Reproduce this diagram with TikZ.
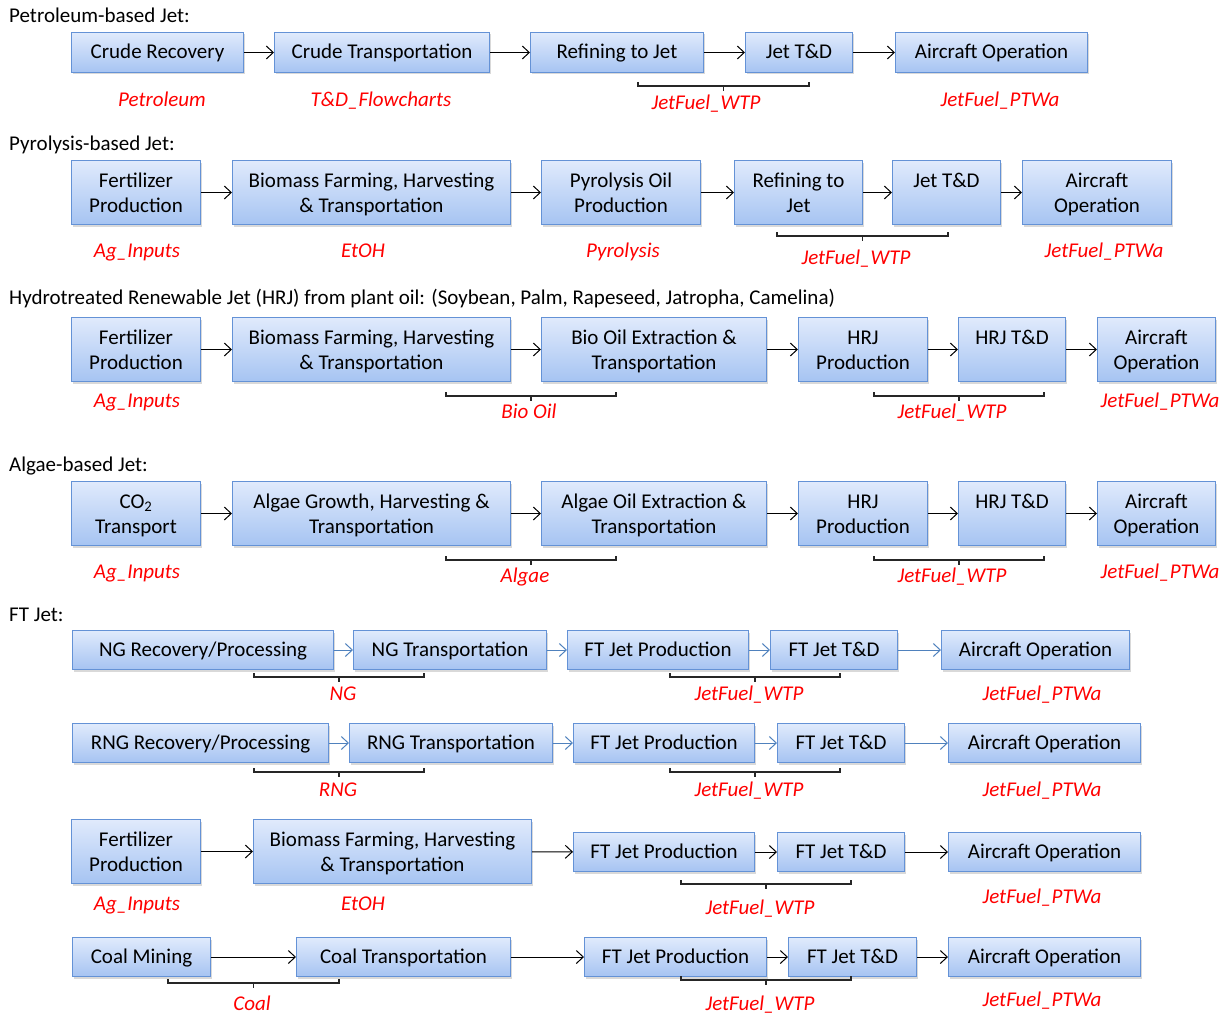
\documentclass[tikz,border=0pt]{standalone}
\usepackage{fontspec}
\setmainfont{Carlito}
\usetikzlibrary{arrows.meta,shadows}

\definecolor{boxtop}{HTML}{E0EAFC}
\definecolor{boxbot}{HTML}{A6C4F2}
\definecolor{boxedge}{HTML}{6492D6}
\definecolor{bluearrow}{HTML}{4F81BD}
\definecolor{labred}{HTML}{FF0000}

\tikzset{
  box/.style={draw=boxedge, line width=1pt, top color=boxtop, bottom color=boxbot,
    anchor=north west, inner sep=0pt, align=center,
    font=\fontsize{21}{25}\selectfont,
    drop shadow={opacity=0.3, shadow xshift=1.5pt, shadow yshift=-2pt}},
  onebox/.style={box, minimum height=39pt, text height=15pt, text depth=3pt},
  twobox/.style={box, minimum height=64pt},
  arr/.style={draw=black, line width=1pt, -{Straight Barb[length=7pt,width=13pt]}},
  barr/.style={draw=bluearrow, line width=1pt, -{Straight Barb[length=7pt,width=13pt]}},
  lab/.style={anchor=base, text=labred, inner sep=0pt, font=\fontsize{21}{25}\selectfont\itshape},
  head/.style={anchor=base west, inner sep=0pt, font=\fontsize{21}{25}\selectfont},
  brk/.style={draw=black!85, line width=1.2pt}
}

% two-line box text, each line with a strut so all rows sit alike
\newcommand{\twol}[2]{\rule{0pt}{21.5pt}#1\\\strut #2}

% grouping bracket: left x, right x, line y
\newcommand{\grpbracket}[3]{%
  \draw[brk] (#1,#3-4) -- (#1,#3) -- (#2,#3) -- (#2,#3-4);
  \draw[brk] ({(#1+#2)/2},#3) -- ({(#1+#2)/2},#3+5);}

\begin{document}
\begin{tikzpicture}[x=1pt,y=-1pt]
\useasboundingbox (0,0) rectangle (1231,1014);

% ---------------- Petroleum-based Jet
\node[head] (h1) at (9,23) {Petroleum-based Jet:};
\node[onebox, minimum height=40pt, minimum width=172pt] (cr1) at (71,32) {Crude Recovery};
\node[onebox, minimum height=40pt, minimum width=215pt] (ct1) at (274,32) {Crude Transportation};
\node[onebox, minimum height=40pt, minimum width=173pt] (rj1) at (530,32) {Refining to Jet};
\node[onebox, minimum height=40pt, minimum width=107pt] (td1) at (745,32) {Jet T\&D};
\node[onebox, minimum height=40pt, minimum width=192pt] (ao1) at (895,32) {Aircraft Operation};
\draw[arr] (cr1) -- (ct1);
\draw[arr] (ct1) -- (rj1);
\draw[arr] (rj1) -- (td1);
\draw[arr] (td1) -- (ao1);
\node[lab] (l1a) at (162,107) {Petroleum};
\node[lab] (l1b) at (381,107) {T\&D\_Flowcharts};
\grpbracket{638}{809}{86}
\node[lab] (l1c) at (706,110) {JetFuel\_WTP};
\node[lab] (l1d) at (1000,107) {JetFuel\_PTWa};

% ---------------- Pyrolysis-based Jet
\node[head] (h2) at (9,150) {Pyrolysis-based Jet:};
\node[twobox, minimum width=129pt] (fp2) at (71,160) {\twol{Fertilizer}{Production}};
\node[twobox, minimum width=278pt] (bf2) at (232,160) {\twol{Biomass Farming, Harvesting}{\& Transportation}};
\node[twobox, minimum width=159pt] (po2) at (541,160) {\twol{Pyrolysis Oil}{Production}};
\node[twobox, minimum width=128pt] (rj2) at (734,160) {\twol{Refining to}{Jet}};
\node[twobox, minimum width=108pt] (td2) at (892,160) {\twol{Jet T\&D}{}};
\node[twobox, minimum width=149pt] (ao2) at (1022,160) {\twol{Aircraft}{Operation}};
\draw[arr] (fp2) -- (bf2);
\draw[arr] (bf2) -- (po2);
\draw[arr] (po2) -- (rj2);
\draw[arr] (rj2) -- (td2);
\draw[arr] (td2) -- (ao2);
\node[lab] (l2a) at (137,257) {Ag\_Inputs};
\node[lab] (l2b) at (363,257) {EtOH};
\node[lab] (l2c) at (623,257) {Pyrolysis};
\grpbracket{777}{948}{236}
\node[lab] (l2d) at (856,264) {JetFuel\_WTP};
\node[lab] (l2e) at (1104,257) {JetFuel\_PTWa};

% ---------------- HRJ from plant oil
\node[head] (h3) at (9,304) {Hydrotreated Renewable Jet (HRJ) from plant oil: (Soybean, Palm, Rapeseed, Jatropha, Camelina)};
\node[twobox, minimum width=129pt] (fp3) at (71,317) {\twol{Fertilizer}{Production}};
\node[twobox, minimum width=278pt] (bf3) at (232,317) {\twol{Biomass Farming, Harvesting}{\& Transportation}};
\node[twobox, minimum width=225pt] (bo3) at (541,317) {\twol{Bio Oil Extraction \&}{Transportation}};
\node[twobox, minimum width=129pt] (hp3) at (798,317) {\twol{HRJ}{Production}};
\node[twobox, minimum width=107pt] (ht3) at (958,317) {\twol{HRJ T\&D}{}};
\node[twobox, minimum width=118pt] (ao3) at (1097,317) {\twol{Aircraft}{Operation}};
\draw[arr] (fp3) -- (bf3);
\draw[arr] (bf3) -- (bo3);
\draw[arr] (bo3) -- (hp3);
\draw[arr] (hp3) -- (ht3);
\draw[arr] (ht3) -- (ao3);
\node[lab] (l3a) at (137,407) {Ag\_Inputs};
\grpbracket{446}{616}{396}
\node[lab] (l3b) at (529,418) {Bio Oil};
\grpbracket{874}{1044}{396}
\node[lab] (l3c) at (952,418) {JetFuel\_WTP};
\node[lab] (l3d) at (1160,407) {JetFuel\_PTWa};

% ---------------- Algae-based Jet
\node[head] (h4) at (9,471) {Algae-based Jet:};
\node[twobox, minimum width=129pt] (co4) at (71,481) {\twol{CO\textsubscript{2}}{Transport}};
\node[twobox, minimum width=278pt] (ag4) at (232,481) {\twol{Algae Growth, Harvesting \&}{Transportation}};
\node[twobox, minimum width=225pt] (ae4) at (541,481) {\twol{Algae Oil Extraction \&}{Transportation}};
\node[twobox, minimum width=129pt] (hp4) at (798,481) {\twol{HRJ}{Production}};
\node[twobox, minimum width=107pt] (ht4) at (958,481) {\twol{HRJ T\&D}{}};
\node[twobox, minimum width=118pt] (ao4) at (1097,481) {\twol{Aircraft}{Operation}};
\draw[arr] (co4) -- (ag4);
\draw[arr] (ag4) -- (ae4);
\draw[arr] (ae4) -- (hp4);
\draw[arr] (hp4) -- (ht4);
\draw[arr] (ht4) -- (ao4);
\node[lab] (l4a) at (137,578) {Ag\_Inputs};
\grpbracket{446}{616}{560}
\node[lab] (l4b) at (525,582) {Algae};
\grpbracket{874}{1044}{560}
\node[lab] (l4c) at (952,582) {JetFuel\_WTP};
\node[lab] (l4d) at (1160,578) {JetFuel\_PTWa};

% ---------------- FT Jet
\node[head] (h5) at (9,621) {FT Jet:};
\node[onebox, minimum width=261pt] (ng5) at (72,630) {NG Recovery/Processing};
\node[onebox, minimum width=193pt] (nt5) at (353,630) {NG Transportation};
\node[onebox, minimum width=181pt] (fj5) at (567,630) {FT Jet Production};
\node[onebox, minimum width=127pt] (ft5) at (770,630) {FT Jet T\&D};
\node[onebox, minimum width=188pt] (ao5) at (941,630) {Aircraft Operation};
\draw[barr] (ng5) -- (nt5);
\draw[barr] (nt5) -- (fj5);
\draw[barr] (fj5) -- (ft5);
\draw[barr] (ft5) -- (ao5);
\grpbracket{254}{424}{677}
\node[lab] (l5a) at (343,700) {NG};
\grpbracket{670}{840}{677}
\node[lab] (l5b) at (749,700) {JetFuel\_WTP};
\node[lab] (l5c) at (1042,700) {JetFuel\_PTWa};

% RNG pathway
\node[onebox, minimum width=256pt] (rn6) at (72,723) {RNG Recovery/Processing};
\node[onebox, minimum width=203pt] (rt6) at (349,723) {RNG Transportation};
\node[onebox, minimum width=181pt] (fj6) at (573,723) {FT Jet Production};
\node[onebox, minimum width=127pt] (ft6) at (777,723) {FT Jet T\&D};
\node[onebox, minimum width=192pt] (ao6) at (948,723) {Aircraft Operation};
\draw[barr] (rn6) -- (rt6);
\draw[barr] (rt6) -- (fj6);
\draw[barr] (fj6) -- (ft6);
\draw[barr] (ft6) -- (ao6);
\grpbracket{254}{424}{772}
\node[lab] (l6a) at (338,796) {RNG};
\grpbracket{670}{840}{772}
\node[lab] (l6b) at (749,796) {JetFuel\_WTP};
\node[lab] (l6c) at (1042,796) {JetFuel\_PTWa};

% biomass pathway
\node[twobox, minimum width=129pt] (fe7) at (71,819) {\twol{Fertilizer}{Production}};
\node[twobox, minimum width=278pt] (bf7) at (253,819) {\twol{Biomass Farming, Harvesting}{\& Transportation}};
\node[onebox, minimum width=181pt] (fj7) at (573,832) {FT Jet Production};
\node[onebox, minimum width=127pt] (ft7) at (777,832) {FT Jet T\&D};
\node[onebox, minimum width=192pt] (ao7) at (948,832) {Aircraft Operation};
\draw[arr] (fe7) -- (bf7);
\draw[arr] (bf7) -- (fj7);
\draw[arr] (fj7) -- (ft7);
\draw[arr] (ft7) -- (ao7);
\node[lab] (l7a) at (137,910) {Ag\_Inputs};
\node[lab] (l7b) at (363,910) {EtOH};
\grpbracket{681}{851}{884}
\node[lab] (l7c) at (760,914) {JetFuel\_WTP};
\node[lab] (l7d) at (1042,903) {JetFuel\_PTWa};

% coal pathway
\node[onebox, minimum width=138pt] (cm8) at (72,937) {Coal Mining};
\node[onebox, minimum width=214pt] (ct8) at (296,937) {Coal Transportation};
\node[onebox, minimum width=182pt] (fj8) at (584,937) {FT Jet Production};
\node[onebox, minimum width=128pt] (ft8) at (788,937) {FT Jet T\&D};
\node[onebox, minimum width=192pt] (ao8) at (948,937) {Aircraft Operation};
\draw[arr] (cm8) -- (ct8);
\draw[arr] (ct8) -- (fj8);
\draw[arr] (fj8) -- (ft8);
\draw[arr] (ft8) -- (ao8);
\grpbracket{168}{339}{983}
\node[lab] (l8a) at (252,1010) {Coal};
\grpbracket{681}{851}{980}
\node[lab] (l8b) at (760,1010) {JetFuel\_WTP};
\node[lab] (l8c) at (1042,1006) {JetFuel\_PTWa};
\end{tikzpicture}
\end{document}
